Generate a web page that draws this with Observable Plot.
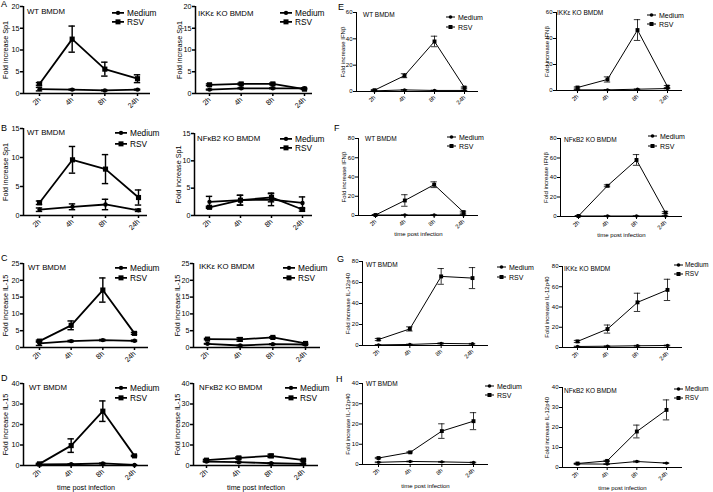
<!DOCTYPE html>
<html><head><meta charset="utf-8">
<script src="https://cdn.jsdelivr.net/npm/d3@7"></script>
<script src="https://cdn.jsdelivr.net/npm/@observablehq/plot@0.6"></script>
<style>
body{margin:0;background:#fff;}
#fig{position:relative;width:713px;height:492px;overflow:hidden;font-family:"Liberation Sans",Arial,sans-serif;color:#000;}
#fig svg{position:absolute;left:0;top:0;}
.t{position:absolute;white-space:nowrap;transform:translateY(-50%);line-height:1;}
.lg{position:absolute;display:flex;align-items:center;white-space:nowrap;transform:translateY(-50%);line-height:1;}
.lg svg{position:static !important;margin-right:3px;}
</style></head><body><div id="fig"></div>
<script>
const times = ["2h","4h","8h","24h"];
const seriesNames = ["Medium","RSV"];

// ---- values (mean, error) ----
const A_WT_medium=[1.0,0.9,0.7,0.9], A_WT_medium_err=[0.4,0.1,0.1,0.1];
const A_WT_rsv=[2.2,12.5,5.6,3.4], A_WT_rsv_err=[0.3,3.0,1.6,0.9];
const A_KO_medium=[0.9,1.2,1.2,1.2], A_KO_medium_err=[0.1,0.1,0.1,0.1];
const A_KO_rsv=[2.0,2.2,2.2,1.0], A_KO_rsv_err=[0.2,0.2,0.2,0.1];
const B_WT_medium=[1.0,1.5,1.9,0.9], B_WT_medium_err=[0.3,0.5,0.9,0.2];
const B_WT_rsv=[2.2,9.6,8.0,3.1], B_WT_rsv_err=[0.3,2.3,2.5,1.3];
const B_KO_medium=[2.5,2.8,2.9,2.3], B_KO_medium_err=[1.0,0.9,1.1,1.1];
const B_KO_rsv=[1.5,2.8,3.3,1.1], B_KO_rsv_err=[0.2,0.9,0.8,0.3];
const C_WT_medium=[1.2,1.9,2.2,2.0], C_WT_medium_err=[0.6,0.2,0.2,0.2];
const C_WT_rsv=[1.9,6.6,17.1,4.2], C_WT_rsv_err=[0.3,1.3,3.6,0.3];
const C_KO_medium=[1.1,0.6,1.0,0.9], C_KO_medium_err=[0.1,0.1,0.1,0.1];
const C_KO_rsv=[2.5,2.4,3.0,1.2], C_KO_rsv_err=[0.2,0.5,0.2,0.2];
const D_WT_medium=[0.5,0.6,1.0,0.3], D_WT_medium_err=[0.2,0.2,0.2,0.1];
const D_WT_rsv=[0.8,9.7,26.5,4.7], D_WT_rsv_err=[0.3,3.3,5.0,0.3];
const D_KO_medium=[1.9,1.6,1.1,0.8], D_KO_medium_err=[0.2,0.2,0.2,0.2];
const D_KO_rsv=[2.6,3.7,4.7,2.6], D_KO_rsv_err=[0.4,0.5,0.8,0.4];
const E_WT_medium=[0.5,1.2,0.8,0.8], E_WT_medium_err=[0.2,0.3,0.2,0.2];
const E_WT_rsv=[1.0,12.0,38.0,3.0], E_WT_rsv_err=[0.5,1.5,4.0,0.5];
const E_KO_medium=[0.5,0.5,1.0,1.5], E_KO_medium_err=[0.2,0.2,0.2,0.2];
const E_KO_rsv=[2.3,8.5,46.5,3.0], E_KO_rsv_err=[0.5,2.0,8.0,0.8];
const F_WT_medium=[0.5,0.5,0.5,0.5], F_WT_medium_err=[0.2,0.2,0.2,0.2];
const F_WT_rsv=[0.5,15.6,32.0,3.5], F_WT_rsv_err=[0.3,6.0,3.0,1.0];
const F_KO_medium=[0.5,0.5,0.5,0.5], F_KO_medium_err=[0.2,0.2,0.2,0.2];
const F_KO_rsv=[0.5,31.5,58.0,4.0], F_KO_rsv_err=[0.3,1.0,5.5,1.0];
const G_WT_medium=[0.6,1.0,2.0,1.6], G_WT_medium_err=[0.3,0.3,0.5,0.4];
const G_WT_rsv=[5.7,15.8,65.8,64.2], G_WT_rsv_err=[1.0,2.0,7.5,10.0];
const G_KO_medium=[1.0,1.3,1.7,2.0], G_KO_medium_err=[0.3,0.3,0.4,0.4];
const G_KO_rsv=[6.0,18.2,44.6,56.9], G_KO_rsv_err=[1.0,4.0,9.0,10.5];
const H_WT_medium=[1.1,1.5,1.3,1.0], H_WT_medium_err=[0.2,0.2,0.2,0.2];
const H_WT_rsv=[3.2,6.0,16.5,21.4], H_WT_rsv_err=[0.3,0.3,3.6,4.2];
const H_KO_medium=[1.8,1.7,3.0,2.2], H_KO_medium_err=[0.2,0.2,0.3,0.2];
const H_KO_rsv=[2.0,3.3,18.0,28.8], H_KO_rsv_err=[0.2,0.3,3.2,5.0];

const panelLetters = ["A","B","C","D","E","F","G","H"];
const yLabels = {A:"Fold increase Sp1",B:"Fold increase Sp1",C:"Fold increase IL-15",D:"Fold increase IL-15",
  E:"Fold increase IFNβ",F:"Fold increase IFNβ",G:"Fold increase IL-12p40",H:"Fold increase IL-12p40"};
const titles = {A_WT:"WT BMDM",A_KO:"IKKε KO BMDM",B_WT:"WT BMDM",B_KO:"NFκB2 KO BMDM",
  C_WT:"WT BMDM",C_KO:"IKKε KO BMDM",D_WT:"WT BMDM",D_KO:"NFκB2 KO BMDM",
  E_WT:"WT BMDM",E_KO:"IKKε KO BMDM",F_WT:"WT BMDM",F_KO:"NFκB2 KO BMDM",
  G_WT:"WT BMDM",G_KO:"IKKε KO BMDM",H_WT:"WT BMDM",H_KO:"NFκB2 KO BMDM"};
const yMax = {A:20,B:15,C:25,D:40,E:60,F:80,G:80,H:40};
const yStep = {A:5,B:5,C:5,D:10,E:20,F:20,G:20,H:10};
const xAxisLabel = "time post infection";

const data = {
  A_WT:[A_WT_medium,A_WT_medium_err,A_WT_rsv,A_WT_rsv_err], A_KO:[A_KO_medium,A_KO_medium_err,A_KO_rsv,A_KO_rsv_err],
  B_WT:[B_WT_medium,B_WT_medium_err,B_WT_rsv,B_WT_rsv_err], B_KO:[B_KO_medium,B_KO_medium_err,B_KO_rsv,B_KO_rsv_err],
  C_WT:[C_WT_medium,C_WT_medium_err,C_WT_rsv,C_WT_rsv_err], C_KO:[C_KO_medium,C_KO_medium_err,C_KO_rsv,C_KO_rsv_err],
  D_WT:[D_WT_medium,D_WT_medium_err,D_WT_rsv,D_WT_rsv_err], D_KO:[D_KO_medium,D_KO_medium_err,D_KO_rsv,D_KO_rsv_err],
  E_WT:[E_WT_medium,E_WT_medium_err,E_WT_rsv,E_WT_rsv_err], E_KO:[E_KO_medium,E_KO_medium_err,E_KO_rsv,E_KO_rsv_err],
  F_WT:[F_WT_medium,F_WT_medium_err,F_WT_rsv,F_WT_rsv_err], F_KO:[F_KO_medium,F_KO_medium_err,F_KO_rsv,F_KO_rsv_err],
  G_WT:[G_WT_medium,G_WT_medium_err,G_WT_rsv,G_WT_rsv_err], G_KO:[G_KO_medium,G_KO_medium_err,G_KO_rsv,G_KO_rsv_err],
  H_WT:[H_WT_medium,H_WT_medium_err,H_WT_rsv,H_WT_rsv_err], H_KO:[H_KO_medium,H_KO_medium_err,H_KO_rsv,H_KO_rsv_err]
};

// ---- layout (page pixels) ----
const layout = [
 {id:"A_WT",L:23,R:150,T:6,B:93,p0:39,p3:137,lo:20.5,tx:27,ty:12,lx:112,ly:[13,22]},
 {id:"A_KO",L:195,R:312,T:6,B:93,p0:209,p3:304,lo:18.5,tx:198,ty:14,lx:280,ly:[13,22]},
 {id:"B_WT",L:23,R:147,T:128,B:215,p0:39,p3:138,lo:20.5,tx:27,ty:133,lx:115,ly:[133,144]},
 {id:"B_KO",L:194,R:312,T:133,B:215,p0:209,p3:302,lo:18.5,tx:197,ty:139,lx:280,ly:[139,148]},
 {id:"C_WT",L:23,R:148,T:263,B:347,p0:39,p3:134,lo:20.5,tx:28,ty:268,lx:115,ly:[268,278]},
 {id:"C_KO",L:193,R:320,T:263,B:347,p0:207,p3:305,lo:18.5,tx:199,ty:267,lx:283,ly:[268,278]},
 {id:"D_WT",L:23,R:148,T:383,B:465,p0:39,p3:134,lo:20.5,tx:29,ty:388,lx:115,ly:[388,398],xl:24},
 {id:"D_KO",L:193,R:318,T:383,B:465,p0:206,p3:303,lo:18.5,tx:199,ty:388,lx:285,ly:[388,398],xl:24},
 {id:"E_WT",L:356,R:478,T:12,B:91,p0:374,p3:464,lo:16,tx:363,ty:15,lx:446,ly:[17,27],small:true},
 {id:"E_KO",L:556,R:682,T:12,B:90,p0:577,p3:667,lo:12,tx:557,ty:13,lx:647,ly:[15,24],small:true},
 {id:"F_WT",L:358,R:478,T:138,B:215,p0:375,p3:463,lo:17,tx:365,ty:139,lx:447,ly:[137,146],small:true,xl:20},
 {id:"F_KO",L:560,R:682,T:138,B:216,p0:578,p3:665,lo:17,tx:564,ty:140,lx:648,ly:[136,146],small:true,xl:20},
 {id:"G_WT",L:362,R:488,T:261,B:345,p0:378,p3:472,lo:17,tx:366,ty:265,lx:497,ly:[267,277],small:true},
 {id:"G_KO",L:562,R:682,T:266,B:347,p0:577,p3:667,lo:18,tx:564,ty:269,lx:674,ly:[265,274],small:true,tight:true},
 {id:"H_WT",L:362,R:488,T:383,B:464,p0:378,p3:473,lo:17,tx:366,ty:384,lx:485,ly:[386,395],small:true,xl:23},
 {id:"H_KO",L:562,R:682,T:387,B:467,p0:577,p3:666,lo:18,tx:564,ty:391,lx:674,ly:[389,398],small:true,xl:22,tight:true}
];
const letterPos = {A:[1,4],B:[1,128],C:[1,258],D:[1,378],E:[338,7],F:[334,128],G:[337,259],H:[336,379]};

const W = 713, Hh = 492;
const fig = document.getElementById("fig");
const FONT = '"Liberation Sans", Arial, sans-serif';

function addDiv(cls, x, y, html, size){
  const d = document.createElement("div");
  d.className = cls; d.style.left = x+"px"; d.style.top = y+"px"; d.style.fontSize = size+"px";
  d.innerHTML = html; fig.appendChild(d); return d;
}

for (const p of layout){
  const key = p.id[0];
  const [med, medErr, rsv, rsvErr] = data[p.id];
  const rows = [];
  times.forEach((t,i)=>{
    rows.push({s:seriesNames[0], i, v:med[i], e:medErr[i]});
    rows.push({s:seriesNames[1], i, v:rsv[i], e:rsvErr[i]});
  });
  const k = (times.length-1)/(p.p3-p.p0);
  const xd = [-(p.p0-p.L)*k, (times.length-1)+(p.R-p.p3)*k];
  const small = !!p.small;
  const fs = small ? 6 : 7.2;
  const lw = small ? 1 : 1.8;
  const axw = small ? 1 : 1.5;
  const cap = 3.2*k;
  const yt = d3.range(0, yMax[key]+0.001, yStep[key]);
  const svg = Plot.plot({
    width: W, height: Hh,
    marginLeft: p.L, marginRight: W-p.R, marginTop: p.T, marginBottom: Hh-p.B,
    style: {background:"transparent", fontFamily: FONT, fontSize: fs+"px", color:"#000", overflow:"visible"},
    x: {domain: xd},
    y: {domain: [0, yMax[key]]},
    marks: [
      Plot.axisY({ticks: yt, tickSize: 3, tickPadding: 1, fontSize: fs, strokeWidth: axw,
        label: yLabels[key], labelAnchor: "center", labelOffset: p.lo, labelArrow: "none"}),
      Plot.axisX({ticks: d3.range(times.length), tickFormat: i => times[i], tickRotate: -45,
        tickSize: 3, tickPadding: 2, fontSize: fs, strokeWidth: axw,
        label: p.xl ? xAxisLabel : null, labelAnchor: "center", labelOffset: p.xl || 0, labelArrow: "none"}),
      Plot.ruleY([0], {strokeWidth: axw}),
      Plot.ruleX([xd[0]], {strokeWidth: axw}),
      Plot.ruleX(rows, {x:"i", y1: d=>Math.max(0,d.v-d.e), y2: d=>d.v+d.e, strokeWidth: lw*0.8}),
      Plot.ruleY(rows, {y: d=>d.v+d.e, x1: d=>d.i-cap, x2: d=>d.i+cap, strokeWidth: lw*0.8}),
      Plot.ruleY(rows.filter(d=>d.v-d.e>0), {y: d=>d.v-d.e, x1: d=>d.i-cap, x2: d=>d.i+cap, strokeWidth: lw*0.8}),
      Plot.line(rows, {x:"i", y:"v", z:"s", stroke:"#000", strokeWidth: lw}),
      Plot.dot(rows.filter(d=>d.s===seriesNames[0]), {x:"i", y:"v", r: small?1.7:2.2, fill:"#000", symbol:"circle"}),
      Plot.dot(rows.filter(d=>d.s===seriesNames[1]), {x:"i", y:"v", r: small?2.2:2.9, fill:"#000", symbol:"square"})
    ]
  });
  fig.appendChild(svg);

  addDiv("t", p.tx, p.ty, titles[p.id], small ? 6.5 : 7.8);
  const sw = small ? 9 : 12, sh = 8;
  const lf = p.tight ? 6.6 : (small ? 7 : 8.3);
  seriesNames.forEach((name, j)=>{
    const mk = j===0
      ? `<circle cx="${sw/2}" cy="${sh/2}" r="${small?1.8:2.2}" fill="#000"/>`
      : `<rect x="${sw/2-(small?2:2.5)}" y="${sh/2-(small?2:2.5)}" width="${small?4:5}" height="${small?4:5}" fill="#000"/>`;
    const d = addDiv("lg", p.lx, p.ly[j],
      `<svg width="${sw}" height="${sh}"><line x1="0" x2="${sw}" y1="${sh/2}" y2="${sh/2}" stroke="#000" stroke-width="${lw}"/>${mk}</svg><span>${name}</span>`, lf);
    if (p.tight) d.querySelector("svg").style.marginRight = "2px";
  });
}
for (const L of panelLetters){
  addDiv("t", letterPos[L][0], letterPos[L][1], L, 9);
}
</script></body></html>
